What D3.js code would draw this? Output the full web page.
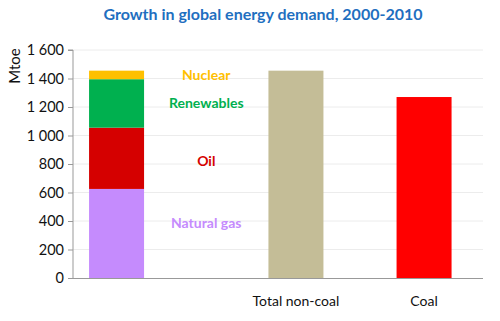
<!DOCTYPE html>
<html><head><meta charset="utf-8">
<script src="https://cdn.jsdelivr.net/npm/d3@7"></script>
<style>body{margin:0;background:#fff;} svg{display:block;}</style>
</head><body>
<svg id="c" width="500" height="321"></svg>
<script>
// ---- data ----
const title = "Growth in global energy demand, 2000-2010";
const yLabel = "Mtoe";
const stackSeries = ["Natural gas", "Oil", "Renewables", "Nuclear"];
const stackValues = [625, 430, 340, 60];
const categories = ["Breakdown", "Total non-coal", "Coal"];
const categoryLabels = ["", "Total non-coal", "Coal"];
const totalValues = [null, 1455, 1270];
const yTicks = [0, 200, 400, 600, 800, 1000, 1200, 1400, 1600];

// ---- styles / layout ----
const stackColors = ["#C58BFD", "#D50000", "#00B04F", "#FFC000"];
const barColors = [null, "#C4BD97", "#FF0000"];
const labelColors = ["#C58BFD", "#D50000", "#00B04F", "#FFC000"];
const slotOf = {"Breakdown": 1.7, "Total non-coal": 8.7, "Coal": 13.7};
const labelSlot = 5.2;
const labelFrac = [0.62, 0.45, 0.5, 0.5];
const barW = 55;

const svg = d3.select("#c");
const font = "Lato, 'Open Sans', sans-serif";
const pLeft = 73, pRight = 483, pTop = 50, pBottom = 278;

const y = d3.scaleLinear().domain([0, 1600]).range([pBottom, pTop]);
const x = d3.scaleLinear().domain([0, 16]).range([pLeft, pRight]);

// grid
svg.append("g").selectAll("line").data(yTicks.filter(d => d > 0)).join("line")
  .attr("x1", pLeft).attr("x2", pRight)
  .attr("y1", d => y(d)).attr("y2", d => y(d))
  .attr("stroke", "#ececec").attr("stroke-width", 1);

// y axis
const yAxis = d3.axisLeft(y).tickValues(yTicks).tickSize(5).tickPadding(4)
  .tickFormat(d => d >= 1000 ? String(d).slice(0,1) + " " + String(d).slice(1) : String(d));
const gy = svg.append("g").attr("transform", `translate(${pLeft},0)`).call(yAxis);
gy.select(".domain").attr("stroke", "#999").attr("d", `M-5,${pTop}H0V${pBottom}`);
gy.selectAll(".tick line").attr("stroke", "#999");
gy.selectAll(".tick text").attr("font-family", font).attr("font-size", 14.5).attr("fill", "#111");

// stacked bar
let acc = 0;
const segs = stackValues.map((v, i) => { const s = {name: stackSeries[i], y0: acc, y1: acc + v, i}; acc += v; return s; });
const cx0 = x(slotOf["Breakdown"]);
svg.append("g").selectAll("rect").data(segs).join("rect")
  .attr("x", cx0 - barW / 2).attr("width", barW)
  .attr("y", d => y(d.y1)).attr("height", d => y(d.y0) - y(d.y1))
  .attr("fill", d => stackColors[d.i]);

// segment labels
svg.append("g").selectAll("text").data(segs).join("text")
  .attr("x", x(labelSlot)).attr("y", d => y(d.y0 + (d.y1 - d.y0) * labelFrac[d.i]))
  .attr("dy", "0.35em").attr("text-anchor", "middle")
  .attr("font-family", font).attr("font-weight", "bold").attr("font-size", 14)
  .attr("fill", d => labelColors[d.i]).text(d => d.name);

// total bars
const totals = categories.map((c, i) => ({c, v: totalValues[i], i})).filter(d => d.v != null);
svg.append("g").selectAll("rect").data(totals).join("rect")
  .attr("x", d => x(slotOf[d.c]) - barW / 2).attr("width", barW)
  .attr("y", d => y(d.v)).attr("height", d => y(0) - y(d.v))
  .attr("fill", d => barColors[d.i]);

// x axis line
svg.append("line").attr("x1", pLeft).attr("x2", pRight).attr("y1", pBottom + 0.5).attr("y2", pBottom + 0.5)
  .attr("stroke", "#999");

// category labels
svg.append("g").selectAll("text").data(categories.map((c, i) => ({c, l: categoryLabels[i]}))).join("text")
  .attr("x", d => x(slotOf[d.c])).attr("y", 301).attr("dy", "0.35em").attr("text-anchor", "middle")
  .attr("font-family", font).attr("font-size", 14).attr("fill", "#111").text(d => d.l);

// y label
svg.append("text").attr("transform", "translate(15,66) rotate(-90)").attr("text-anchor", "middle")
  .attr("dy", "0.35em").attr("font-family", font).attr("font-size", 15).attr("fill", "#111").text(yLabel);

// title
svg.append("text").attr("x", 263).attr("y", 14).attr("dy", "0.35em").attr("text-anchor", "middle")
  .attr("font-family", font).attr("font-weight", "bold").attr("font-size", 16).attr("fill", "#1F6FC0").text(title);
</script>
</body></html>
